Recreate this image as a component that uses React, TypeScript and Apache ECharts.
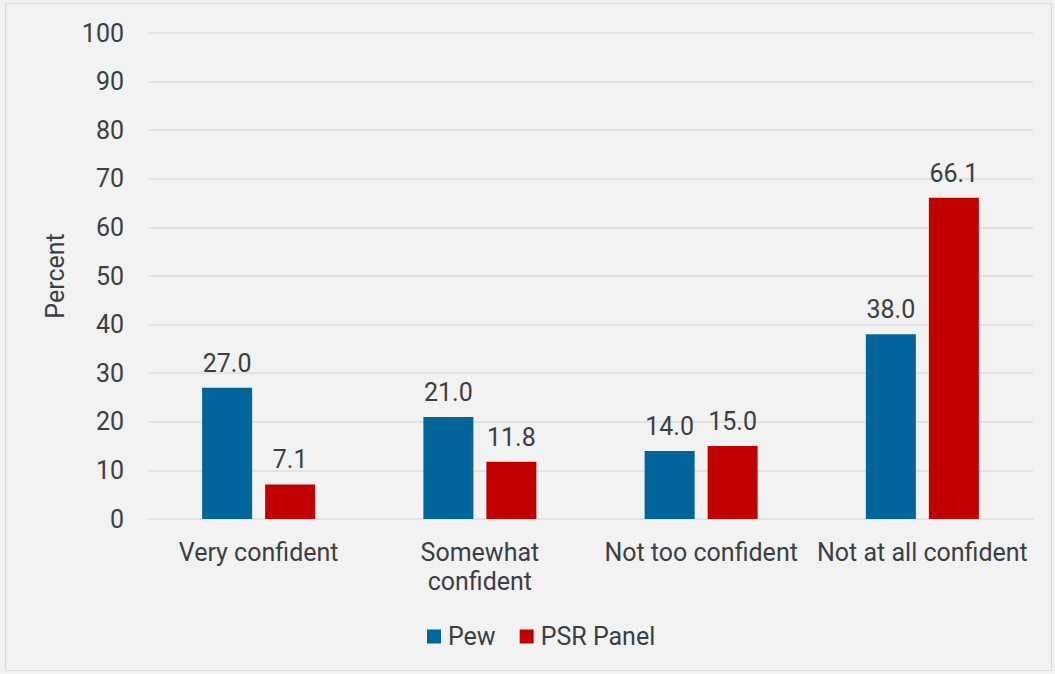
import React, { useEffect, useRef } from "react";
import * as echarts from "echarts";

const categories = ["Very confident", "Somewhat confident", "Not too confident", "Not at all confident"];
const pewValues = [27.0, 21.0, 14.0, 38.0];
const psrValues = [7.1, 11.8, 15.0, 66.1];
const seriesNames = ["Pew", "PSR Panel"];

const FONT = "Roboto";
const TEXT = "#3b3e42";
const FS = 25;

export default function App() {
  const ref = useRef<HTMLDivElement>(null);
  useEffect(() => {
    const chart = echarts.init(ref.current!, undefined, { renderer: "svg" });
    const labelCfg = {
      show: true,
      position: "top",
      distance: 12,
      fontFamily: FONT,
      fontSize: FS,
      color: TEXT,
      formatter: (p: any) => Number(p.value).toFixed(1),
    };
    chart.setOption({
      animation: false,
      backgroundColor: "#f2f2f2",
      textStyle: { fontFamily: FONT },
      graphic: [
        {
          type: "rect",
          shape: { x: 5.5, y: 3.5, width: 1046, height: 667 },
          style: { fill: "none", stroke: "#d9d9d9", lineWidth: 1 },
          silent: true,
        },
      ],
      grid: { left: 148, right: 22, top: 33, bottom: 155, containLabel: false },
      legend: {
        data: seriesNames,
        top: 624,
        left: 427,
        itemWidth: 14,
        itemHeight: 14,
        itemGap: 24,
        icon: "rect",
        padding: 0,
        textStyle: { fontFamily: FONT, fontSize: FS, color: TEXT, padding: [0, 0, 0, 2] },
      },
      xAxis: {
        type: "category",
        data: categories,
        axisLine: { show: true, lineStyle: { color: "#dfe3e3", width: 2 } },
        axisTick: { show: false },
        axisLabel: {
          fontFamily: FONT,
          fontSize: FS,
          color: TEXT,
          margin: 19,
          lineHeight: 29,
          interval: 0,
          formatter: (v: string) => (v === "Somewhat confident" ? "Somewhat\nconfident" : v),
        },
      },
      yAxis: {
        type: "value",
        min: 0,
        max: 100,
        interval: 10,
        name: "Percent",
        nameLocation: "middle",
        nameGap: 80,
        nameTextStyle: { fontFamily: FONT, fontSize: FS, color: TEXT },
        axisLine: { show: false },
        axisTick: { show: false },
        splitLine: { lineStyle: { color: "#dfe3e3", width: 2 } },
        axisLabel: { fontFamily: FONT, fontSize: FS, color: TEXT, margin: 24 },
      },
      series: [
        {
          name: seriesNames[0],
          type: "bar",
          data: pewValues,
          barWidth: 50,
          barGap: "26%",
          itemStyle: { color: "#00659a" },
          label: labelCfg,
        },
        {
          name: seriesNames[1],
          type: "bar",
          data: psrValues,
          barWidth: 50,
          barGap: "26%",
          itemStyle: { color: "#c00000" },
          label: labelCfg,
        },
      ],
    });
    return () => chart.dispose();
  }, []);
  return <div ref={ref} style={{ position: "absolute", left: 0, top: 0, width: 1055, height: 674 }} />;
}
